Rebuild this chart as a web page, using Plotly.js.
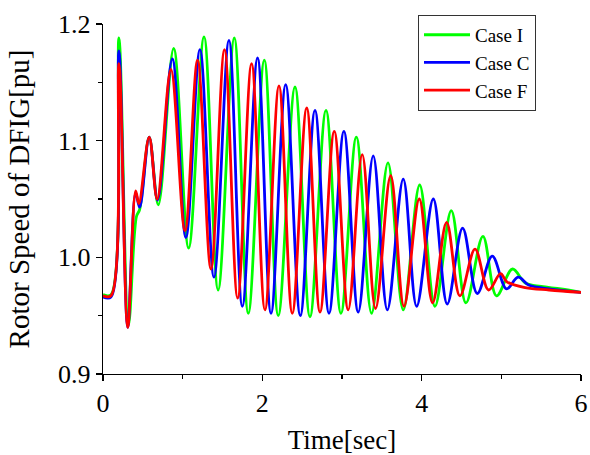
<!DOCTYPE html>
<html>
<head>
<meta charset="utf-8">
<script src="https://cdn.plot.ly/plotly-3.0.1.min.js"></script>
<style>html,body{margin:0;padding:0;background:#fff;}#chart{width:590px;height:455px;}</style>
</head>
<body>
<div id="chart"></div>
<script>
// Case I (green)
const tI = [0, 0.1, 0.2, 0.32, 0.42, 0.46, 0.58, 0.694, 0.887, 1.075, 1.268, 1.445, 1.648, 1.824, 2.025, 2.2, 2.41, 2.598, 2.799, 2.987, 3.18, 3.371, 3.577, 3.769, 3.975, 4.167, 4.372, 4.556, 4.769, 4.94, 5.14, 5.3, 5.5, 5.75, 6.0];
const vI = [0.968, 0.968, 1.188, 0.942, 1.035, 1.041, 1.103, 1.045, 1.179, 1.008, 1.189, 0.972, 1.188, 0.952, 1.169, 0.950, 1.146, 0.949, 1.126, 0.952, 1.103, 0.952, 1.081, 0.955, 1.062, 0.958, 1.040, 0.961, 1.018, 0.967, 0.990, 0.978, 0.975, 0.973, 0.970];
// Case C (blue)
const tC = [0, 0.1, 0.2, 0.31, 0.41, 0.46, 0.58, 0.685, 0.87, 1.04, 1.217, 1.393, 1.581, 1.749, 1.94, 2.109, 2.293, 2.477, 2.661, 2.837, 3.024, 3.204, 3.392, 3.569, 3.769, 3.937, 4.146, 4.321, 4.514, 4.698, 4.886, 5.066, 5.21, 5.35, 5.6, 6.0];
const vC = [0.966, 0.966, 1.177, 0.940, 1.055, 1.043, 1.103, 1.049, 1.170, 1.017, 1.178, 0.983, 1.186, 0.958, 1.171, 0.952, 1.148, 0.950, 1.126, 0.952, 1.108, 0.953, 1.087, 0.955, 1.067, 0.958, 1.050, 0.960, 1.025, 0.969, 1.001, 0.973, 0.983, 0.976, 0.973, 0.970];
// Case F (red)
const tF = [0, 0.1, 0.2, 0.31, 0.41, 0.45, 0.58, 0.68, 0.853, 1.029, 1.187, 1.355, 1.525, 1.69, 1.865, 2.033, 2.209, 2.376, 2.557, 2.724, 2.903, 3.078, 3.254, 3.421, 3.611, 3.778, 3.97, 4.137, 4.313, 4.48, 4.67, 4.84, 4.99, 5.07, 5.3, 5.6, 6.0];
const vF = [0.967, 0.967, 1.166, 0.940, 1.057, 1.046, 1.103, 1.050, 1.161, 1.023, 1.169, 0.990, 1.178, 0.965, 1.166, 0.955, 1.147, 0.952, 1.128, 0.953, 1.108, 0.955, 1.088, 0.956, 1.070, 0.958, 1.050, 0.961, 1.030, 0.967, 1.007, 0.972, 0.986, 0.979, 0.974, 0.972, 0.970];

const seriesNames = ['Case I', 'Case C', 'Case F'];
const seriesColors = ['#00ff00', '#0000ff', '#ff0000'];
const xTicks = [0, 2, 4, 6];
const yTicks = [0.9, 1.0, 1.1, 1.2];
const yTickText = ['0.9', '1.0', '1.1', '1.2'];

const serif = '"Liberation Serif", "Times New Roman", serif';
const data = [[tI, vI], [tC, vC], [tF, vF]].map((s, i) => ({
  x: s[0], y: s[1], type: 'scatter', mode: 'lines', name: seriesNames[i],
  line: {color: seriesColors[i], width: 2.8, shape: 'spline', smoothing: 1.0}
}));

const layout = {
  width: 590, height: 455,
  margin: {l: 103, r: 9, t: 24, b: 81},
  paper_bgcolor: '#fff', plot_bgcolor: '#fff',
  showlegend: true,
  font: {family: serif, color: '#000', size: 26},
  xaxis: {
    range: [0, 6], tickvals: xTicks, ticks: 'outside', ticklen: 6, tickwidth: 1.2,
    tickcolor: '#000', showline: true, linecolor: '#000', linewidth: 1.2,
    showgrid: false, zeroline: false,
    minor: {ticks: 'outside', ticklen: 4, tickwidth: 1.2, tickcolor: '#000', dtick: 1, showgrid: false},
    tickfont: {family: serif, size: 26, color: '#000'},
    title: {text: 'Time[sec]', font: {family: serif, size: 27, color: '#000'}, standoff: 12}
  },
  yaxis: {
    range: [0.9, 1.2], tickvals: yTicks, ticktext: yTickText, ticks: 'outside', ticklen: 6, tickwidth: 1.2,
    tickcolor: '#000', showline: true, linecolor: '#000', linewidth: 1.2,
    showgrid: false, zeroline: false,
    minor: {ticks: 'outside', ticklen: 4, tickwidth: 1.2, tickcolor: '#000', dtick: 0.05, showgrid: false},
    tickfont: {family: serif, size: 26, color: '#000'},
    title: {text: 'Rotor Speed of DFIG[pu]', font: {family: serif, size: 29, color: '#000'}, standoff: 20}
  },
  legend: {
    x: 0.659, y: 1.026, xanchor: 'left', yanchor: 'top',
    bgcolor: '#fff', bordercolor: '#333', borderwidth: 1,
    font: {family: serif, size: 19, color: '#000'},
    itemwidth: 46, tracegroupgap: 0
  }
};

Plotly.newPlot('chart', data, layout, {displayModeBar: false, staticPlot: true});
</script>
</body>
</html>
